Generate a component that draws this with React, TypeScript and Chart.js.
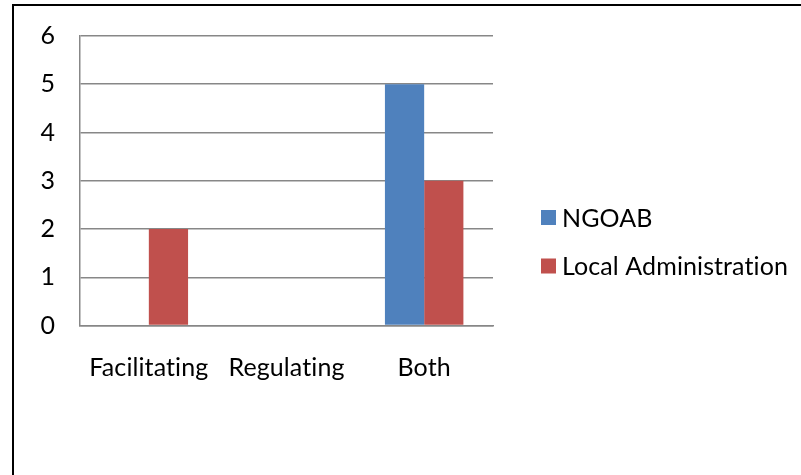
import React, { useEffect, useRef } from "react";
import { Chart, registerables } from "chart.js";

Chart.register(...registerables);

const categories = ["Facilitating", "Regulating", "Both"];
const ngoabValues = [0, 0, 5];
const localAdminValues = [2, 0, 3];
const seriesNames = ["NGOAB", "Local Administration"];
const seriesColors = ["#4F81BD", "#C0504D"];
const yTicks = [0, 1, 2, 3, 4, 5, 6];

const FONT = "Lato, 'Noto Sans', sans-serif";
const FONT_SIZE = 25;

// A tiny letter spacing keeps "ti"/"fi" from being drawn as ligatures.
const plainText = {
  id: "plainText",
  beforeDraw(chart: any) {
    chart.ctx.letterSpacing = "0.1px";
  },
};

// Legend drawn at the right: square swatch followed by the series name.
const sideLegend = {
  id: "sideLegend",
  afterDraw(chart: any) {
    const ctx = chart.ctx;
    const left = 541;
    const firstCenter = 217.5;
    const step = 48.5;
    const box = 15;
    ctx.save();
    ctx.letterSpacing = "0.1px";
    ctx.font = `${FONT_SIZE}px ${FONT}`;
    ctx.textBaseline = "middle";
    ctx.textAlign = "left";
    chart.data.datasets.forEach((ds: any, i: number) => {
      const cy = firstCenter + i * step;
      ctx.fillStyle = ds.backgroundColor;
      ctx.fillRect(left, cy - box / 2, box, box);
      ctx.fillStyle = "#000";
      ctx.fillText(ds.label, left + 21, cy + 1);
    });
    ctx.restore();
  },
};

export default function App() {
  const canvasRef = useRef<HTMLCanvasElement | null>(null);

  useEffect(() => {
    if (!canvasRef.current) return;
    const chart = new Chart(canvasRef.current, {
      type: "bar",
      data: {
        labels: categories,
        datasets: [
          {
            label: seriesNames[0],
            data: ngoabValues,
            backgroundColor: seriesColors[0],
            categoryPercentage: 0.57,
            barPercentage: 1,
          },
          {
            label: seriesNames[1],
            data: localAdminValues,
            backgroundColor: seriesColors[1],
            categoryPercentage: 0.57,
            barPercentage: 1,
          },
        ],
      },
      options: {
        animation: false,
        responsive: false,
        maintainAspectRatio: false,
        layout: { padding: { top: 36, right: 308, bottom: 0, left: 0 } },
        plugins: {
          legend: { display: false },
          tooltip: { enabled: false },
        },
        scales: {
          x: {
            grid: { display: false, drawTicks: false },
            border: { color: "#878787", width: 1.5 },
            ticks: {
              color: "#000",
              font: { family: FONT, size: FONT_SIZE },
              padding: 27,
              maxRotation: 0,
              autoSkip: false,
            },
            afterFit(scale: any) {
              scale.height = 475 - 325.5;
            },
          },
          y: {
            min: 0,
            max: yTicks[yTicks.length - 1],
            afterBuildTicks(scale: any) {
              scale.ticks = yTicks.map((v) => ({ value: v }));
            },
            grid: { color: "#878787", lineWidth: 1.5, drawTicks: false },
            border: { color: "#878787", width: 1.5 },
            ticks: {
              color: "#000",
              font: { family: FONT, size: FONT_SIZE },
              padding: 25,
            },
            afterFit(scale: any) {
              scale.width = 80;
              scale.paddingTop = 0;
              scale.paddingBottom = 0;
            },
          },
        },
      },
      plugins: [plainText, sideLegend],
    });
    return () => chart.destroy();
  }, []);

  return (
    <div
      style={{
        position: "fixed",
        left: 0,
        top: 0,
        width: 801,
        height: 475,
        overflow: "hidden",
        background: "#fff",
      }}
    >
      <div
        style={{
          position: "absolute",
          left: 12,
          top: 4,
          width: 900,
          height: 600,
          border: "2.5px solid #000",
        }}
      />
      <canvas
        ref={canvasRef}
        width={801}
        height={475}
        style={{ position: "absolute", left: 0, top: 0, width: 801, height: 475 }}
      />
    </div>
  );
}
